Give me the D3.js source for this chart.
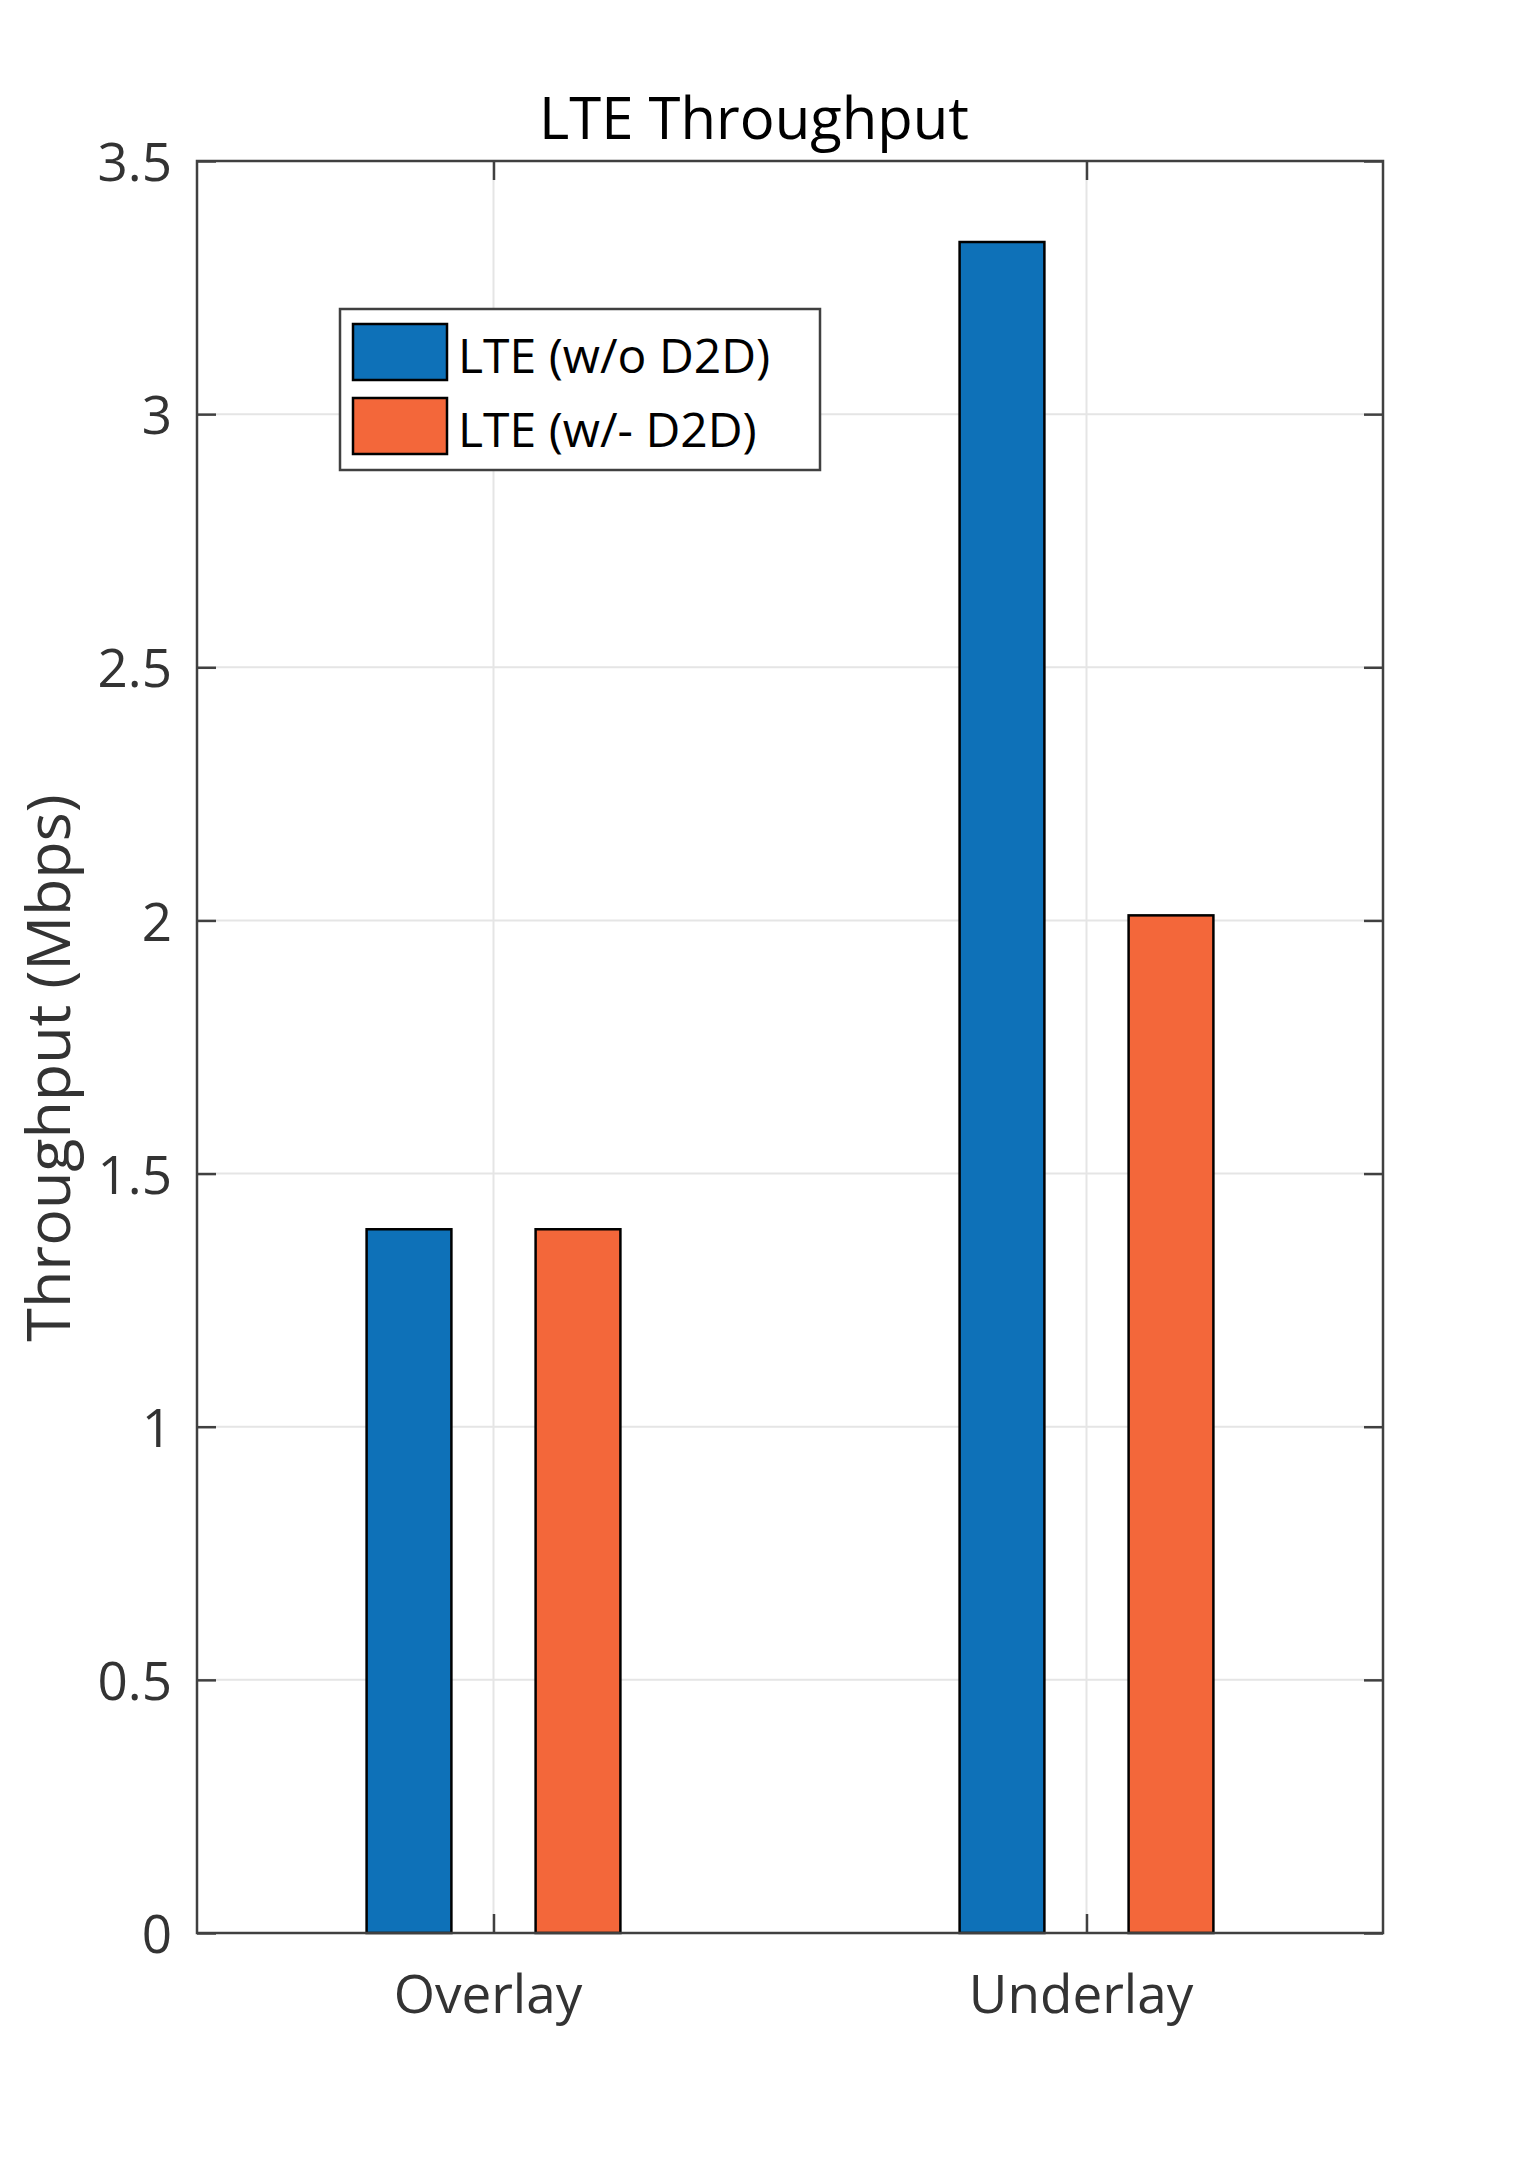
<!DOCTYPE html>
<html>
<head>
<meta charset="utf-8">
<script src="https://cdn.jsdelivr.net/npm/d3@7"></script>
<style>
  body { margin: 0; background: #fff; }
  text { font-family: "Open Sans", "Noto Sans", sans-serif; }
</style>
</head>
<body>
<div id="chart"></div>
<script>
// the data
var categories = ['Overlay', 'Underlay'];
var seriesNames = ['LTE (w/o D2D)', 'LTE (w/- D2D)'];
var withoutD2D = [1.39, 3.34];
var withD2D = [1.39, 2.01];
var yTicks = [0, 0.5, 1, 1.5, 2, 2.5, 3, 3.5];
var yTickLabels = ['0', '0.5', '1', '1.5', '2', '2.5', '3', '3.5'];
var colors = ['#0e71b8', '#f3673a'];

var W = 1530, H = 2171;
var margin = {top: 161, right: 147, bottom: 238, left: 197};

// set the ranges
var x = d3.scaleLinear().domain([0.5, categories.length + 0.5]).range([margin.left, W - margin.right]);
var y = d3.scaleLinear().domain([0, 3.5]).range([H - margin.bottom, margin.top]);

var barWidth = 0.143;   // in x units
var barOffset = 0.1425; // distance of each bar centre from the group centre

var svg = d3.select('#chart').append('svg')
    .attr('width', W)
    .attr('height', H);

// grid lines
var grid = svg.append('g').attr('stroke', '#e5e5e5').attr('stroke-width', 2);
grid.selectAll('line.h').data(yTicks).enter().append('line')
    .attr('x1', x.range()[0]).attr('x2', x.range()[1])
    .attr('y1', function(d) { return y(d); })
    .attr('y2', function(d) { return y(d); });
grid.selectAll('line.v').data(categories).enter().append('line')
    .attr('x1', function(d, i) { return x(i + 1); })
    .attr('x2', function(d, i) { return x(i + 1); })
    .attr('y1', y.range()[0]).attr('y2', y.range()[1]);

// the bars
var series = [withoutD2D, withD2D];
series.forEach(function(vals, s) {
  var off = s === 0 ? -barOffset : barOffset;
  svg.append('g').selectAll('rect').data(vals).enter().append('rect')
      .attr('x', function(d, i) { return x(i + 1 + off - barWidth / 2); })
      .attr('width', x(barWidth) - x(0))
      .attr('y', function(d) { return y(d); })
      .attr('height', function(d) { return y(0) - y(d); })
      .attr('fill', colors[s])
      .attr('stroke', '#000')
      .attr('stroke-width', 2.5);
});

// axes
var tickLen = 19;
var axisColor = '#404040';

var yAxis = svg.append('g')
    .attr('transform', 'translate(' + margin.left + ',0)')
    .call(d3.axisLeft(y).tickValues(yTicks).tickSize(-tickLen)
      .tickFormat(function(d, i) { return yTickLabels[i]; }));
yAxis.selectAll('text')
    .attr('x', -25).attr('dy', '0.37em')
    .attr('font-size', 53).attr('fill', '#333')
    .style('font-family', '"Open Sans", sans-serif');

svg.append('g')
    .attr('transform', 'translate(' + (W - margin.right) + ',0)')
    .call(d3.axisRight(y).tickValues(yTicks).tickSize(-tickLen).tickFormat(''));

var xAxis = svg.append('g')
    .attr('transform', 'translate(0,' + (H - margin.bottom) + ')')
    .call(d3.axisBottom(x).tickValues([1, 2]).tickSize(-tickLen)
      .tickFormat(function(d) { return categories[d - 1]; }));
xAxis.selectAll('text')
    .attr('y', 80).attr('dy', 0).attr('x', -6)
    .attr('font-size', 53).attr('fill', '#333')
    .style('font-family', '"Open Sans", sans-serif');

svg.append('g')
    .attr('transform', 'translate(0,' + margin.top + ')')
    .call(d3.axisTop(x).tickValues([1, 2]).tickSize(-tickLen).tickFormat(''));

svg.selectAll('.domain').remove();
svg.selectAll('.tick line').attr('stroke', axisColor).attr('stroke-width', 2.5);

// box
svg.append('rect')
    .attr('x', x.range()[0]).attr('y', y.range()[1])
    .attr('width', x.range()[1] - x.range()[0])
    .attr('height', y.range()[0] - y.range()[1])
    .attr('fill', 'none')
    .attr('stroke', axisColor)
    .attr('stroke-width', 2.5);

// title
svg.append('text')
    .attr('x', 754).attr('y', 139)
    .attr('text-anchor', 'middle')
    .attr('font-size', 58)
    .attr('fill', '#000')
    .text('LTE Throughput');

// y label
svg.append('text')
    .attr('transform', 'translate(70,1068) rotate(-90)')
    .attr('text-anchor', 'middle')
    .attr('font-size', 61)
    .attr('fill', '#333')
    .text('Throughput (Mbps)');

// legend
var legend = svg.append('g');
legend.append('rect')
    .attr('x', 340).attr('y', 309).attr('width', 480).attr('height', 161)
    .attr('fill', '#fff').attr('stroke', axisColor).attr('stroke-width', 2.5);
seriesNames.forEach(function(name, i) {
  legend.append('rect')
      .attr('x', 353).attr('y', 324 + i * 74).attr('width', 94).attr('height', 56)
      .attr('fill', colors[i]).attr('stroke', '#000').attr('stroke-width', 2.5);
  legend.append('text')
      .attr('x', 458).attr('y', 373 + i * 74)
      .attr('font-size', 48).attr('fill', '#000')
      .text(name);
});
</script>
</body>
</html>
